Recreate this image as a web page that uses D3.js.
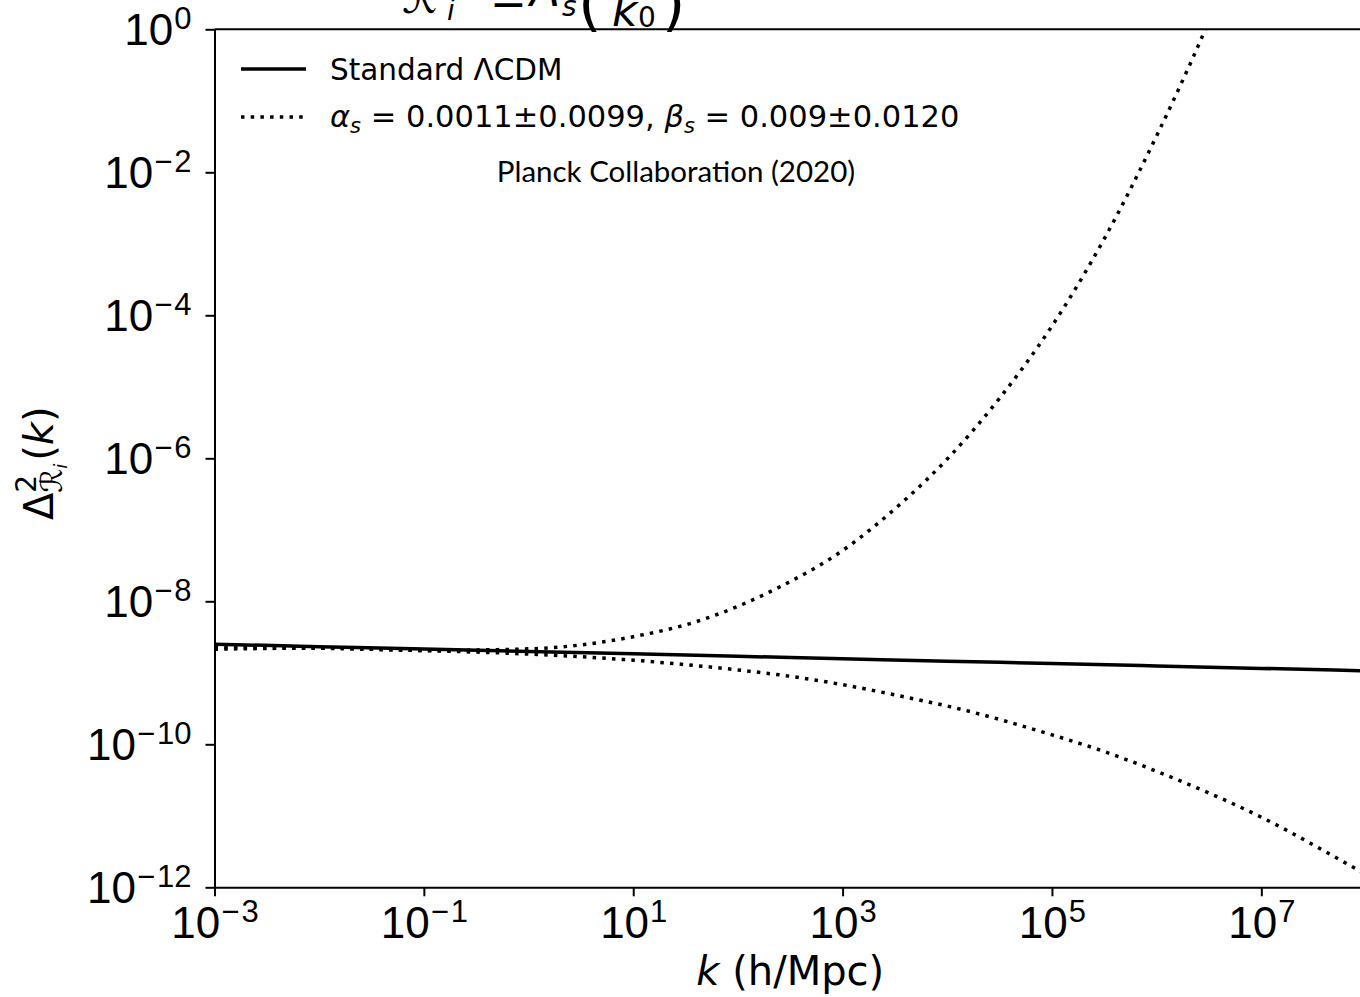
<!DOCTYPE html>
<html>
<head>
<meta charset="utf-8">
<script src="https://cdn.jsdelivr.net/npm/d3@7"></script>
<style>
  html, body { margin: 0; padding: 0; background: #fff; }
  svg { display: block; font-family: "DejaVu Sans", sans-serif; }
</style>
</head>
<body>
<svg id="chart" width="1360" height="997"></svg>
<script>
// ---- data ----
const xTickValues = [1e-3, 1e-1, 1e1, 1e3, 1e5, 1e7];
const xTickExps = [-3, -1, 1, 3, 5, 7];
const yTickValues = [1, 1e-2, 1e-4, 1e-6, 1e-8, 1e-10, 1e-12];
const yTickExps = [0, -2, -4, -6, -8, -10, -12];

// Standard ΛCDM
const kStd = [1e-3, 1e-2, 1e-1, 1, 10, 100, 1e3, 1e4, 1e5, 1e6, 1e7, 1e8];
const pStd = [2.512e-9, 2.323e-9, 2.148e-9, 1.991e-9, 1.841e-9, 1.702e-9, 1.574e-9, 1.455e-9, 1.349e-9, 1.247e-9, 1.153e-9, 1.067e-9];

// running / running-of-running, upper bound
const kUp = [1e-3, 1e-2, 1e-1, 1, 10, 40, 100, 250, 1e3, 3500, 1e4, 3.16e4, 1e5, 3.16e5, 1e6, 2.86e6, 3.98e6];
const pUp = [2.138e-9, 2.213e-9, 2.056e-9, 2.163e-9, 3.199e-9, 5.188e-9, 8.511e-9, 1.585e-8, 5.129e-8, 2.239e-7, 9.772e-7, 6.918e-6, 7.079e-5, 1.175e-3, 3.236e-2, 0.93, 2.9];

// lower bound
const kLow = [1e-3, 1e-2, 1e-1, 1, 10, 40, 100, 400, 1e3, 5e3, 1e4, 1e5, 3e5, 1e6, 1e7, 8.7e7, 1.26e8];
const pLow = [2.239e-9, 2.203e-9, 2.046e-9, 1.828e-9, 1.500e-9, 1.259e-9, 1.096e-9, 8.511e-10, 6.823e-10, 4.266e-10, 3.428e-10, 1.355e-10, 8.128e-11, 4.188e-11, 9.550e-12, 1.698e-12, 1.259e-12];

const legendStd = "Standard \u039BCDM";
const legendRun = [["\u03B1", "s", " = 0.0011\u00B10.0099, "], ["\u03B2", "s", " = 0.009\u00B10.0120"]];
const noteText = "Planck Collaboration (2020)";

// ---- layout ----
const L = 214.5, R = 1366, T = 29.3, B = 887.3;
const svg = d3.select("#chart");

const x = d3.scaleLog().domain([1e-3, 1e8]).range([L, R]);
const y = d3.scaleLog().domain([1e-12, 1]).range([B, T]);

svg.append("defs").append("clipPath").attr("id", "plotclip")
  .append("rect").attr("x", L).attr("y", T).attr("width", R - L).attr("height", B - T);

const line = d3.line().x(d => x(d[0])).y(d => y(d[1])).curve(d3.curveMonotoneX);

const g = svg.append("g").attr("clip-path", "url(#plotclip)");
g.append("path").datum(d3.zip(kStd, pStd)).attr("d", line)
  .attr("fill", "none").attr("stroke", "#000").attr("stroke-width", 3.5);
g.append("path").datum(d3.zip(kUp, pUp)).attr("d", line)
  .attr("fill", "none").attr("stroke", "#000").attr("stroke-width", 3.5)
  .attr("stroke-dasharray", "3.5,6.2");
g.append("path").datum(d3.zip(kLow, pLow)).attr("d", line)
  .attr("fill", "none").attr("stroke", "#000").attr("stroke-width", 3.5)
  .attr("stroke-dasharray", "3.5,6.2");

// power-of-ten label with superscript exponent
function powLabel(sel, e) {
  sel.style("font-size", "44px");
  sel.append("tspan").text("10");
  if (e < 0) {
    sel.append("tspan").attr("dy", -16).attr("dx", 1).style("font-size", "31px").text("\u2212");
    sel.append("tspan").attr("dx", 2).style("font-size", "31px").text(String(-e));
  } else {
    sel.append("tspan").attr("dy", -16).attr("dx", 1).style("font-size", "31px").text(String(e));
  }
}

// ---- axes ----
const xAxis = svg.append("g").attr("transform", `translate(0,${B})`)
  .call(d3.axisBottom(x).tickValues(xTickValues).tickSize(9).tickSizeOuter(0).tickFormat(() => ""));
xAxis.select(".domain").attr("stroke-width", 2);
xAxis.selectAll(".tick line").attr("stroke-width", 2);
xAxis.selectAll(".tick").each(function(d, i) {
  const t = d3.select(this).append("text")
    .attr("y", 51).attr("text-anchor", "middle").attr("fill", "#000");
  powLabel(t, xTickExps[i]);
});

const yAxis = svg.append("g").attr("transform", `translate(${L},0)`)
  .call(d3.axisLeft(y).tickValues(yTickValues).tickSize(9).tickSizeOuter(0).tickFormat(() => ""));
yAxis.select(".domain").attr("stroke-width", 2);
yAxis.selectAll(".tick line").attr("stroke-width", 2);
yAxis.selectAll(".tick").each(function(d, i) {
  const t = d3.select(this).append("text")
    .attr("x", -23).attr("y", 15).attr("text-anchor", "end").attr("fill", "#000");
  powLabel(t, yTickExps[i]);
});

// top spine (right spine is outside the picture)
svg.append("line").attr("x1", L).attr("x2", R).attr("y1", T).attr("y2", T)
  .attr("stroke", "#000").attr("stroke-width", 2);

// ---- axis labels ----
const xl = svg.append("text").attr("x", (L + R) / 2).attr("y", 985)
  .attr("text-anchor", "middle").style("font-size", "40px");
xl.append("tspan").style("font-style", "italic").text("k");
xl.append("tspan").text(" (h/Mpc)");

const yl = svg.append("text").attr("transform", "translate(53,520) rotate(-90)")
  .style("font-size", "40px");
yl.append("tspan").text("\u0394");
yl.append("tspan").attr("dy", -17).style("font-size", "28px").text("2");
yl.append("tspan").attr("dx", -18).attr("dy", 26).style("font-size", "30px").style("font-style", "italic").text("\u211B");
yl.append("tspan").attr("dy", 5).style("font-size", "18px").style("font-style", "italic").text("i");
yl.append("tspan").attr("dy", -14).attr("dx", 3).text("(");
yl.append("tspan").style("font-style", "italic").text("k");
yl.append("tspan").text(")");

// ---- cropped title (only its lower edge is visible) ----
const tt = svg.append("g").style("font-size", "44px");
tt.append("text").attr("x", 402).attr("y", 13).style("font-style", "italic").text("\u211B");
tt.append("text").attr("x", 447).attr("y", 20).style("font-size", "28px").style("font-style", "italic").text("i");
tt.append("text").attr("x", 490).attr("y", 15).text("=");
tt.append("text").attr("x", 530).attr("y", 6).style("font-style", "italic").text("A");
tt.append("text").attr("x", 562).attr("y", 16).style("font-size", "28px").style("font-style", "italic").text("s");
tt.append("text").attr("x", 578).attr("y", 24).style("font-size", "60px").text("(");
tt.append("text").attr("x", 612).attr("y", 26).style("font-style", "italic").text("k");
tt.append("text").attr("x", 638).attr("y", 27).style("font-size", "28px").text("0");
tt.append("text").attr("x", 662).attr("y", 24).style("font-size", "60px").text(")");

// ---- legend ----
const lg = svg.append("g");
lg.append("line").attr("x1", 241).attr("x2", 306).attr("y1", 69).attr("y2", 69)
  .attr("stroke", "#000").attr("stroke-width", 3.5);
lg.append("line").attr("x1", 241).attr("x2", 306).attr("y1", 117).attr("y2", 117)
  .attr("stroke", "#000").attr("stroke-width", 3.5).attr("stroke-dasharray", "3.5,6.2");
lg.append("text").attr("x", 330).attr("y", 80).style("font-size", "29.5px").text(legendStd);

const l2 = lg.append("text").attr("x", 330).attr("y", 127).style("font-size", "30.5px");
legendRun.forEach(([sym, sub, rest]) => {
  l2.append("tspan").style("font-style", "italic").text(sym);
  l2.append("tspan").attr("dy", 6).style("font-size", "21px").style("font-style", "italic").text(sub);
  l2.append("tspan").attr("dy", -6).text(rest);
});

lg.append("text").attr("x", 676).attr("y", 182).attr("text-anchor", "middle")
  .style("font-family", "Lato, 'Open Sans', sans-serif").style("font-size", "29.5px").text(noteText);
</script>
</body>
</html>
